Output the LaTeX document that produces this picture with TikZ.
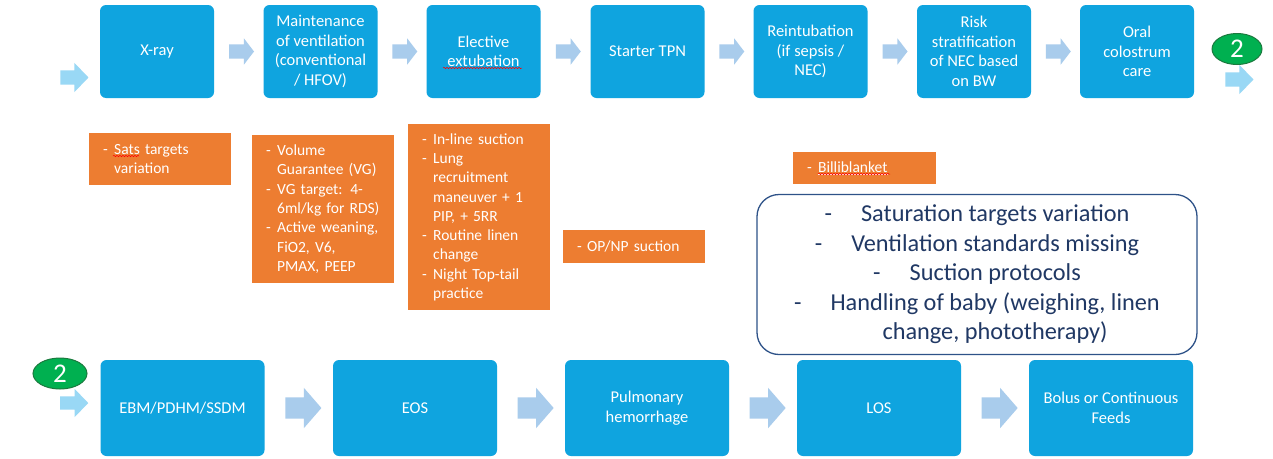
\documentclass[tikz,border=0pt]{standalone}
\usepackage{fontspec}
\setmainfont{Carlito}
\usetikzlibrary{shapes.arrows,shapes.geometric,calc,decorations.pathmorphing}
\definecolor{boxblue}{HTML}{0FA4DF}
\definecolor{arrowblue}{HTML}{A9CCEC}
\definecolor{cyanarrow}{HTML}{99D8F5}
\definecolor{orangebox}{HTML}{ED7D31}
\definecolor{greenfill}{HTML}{00B050}
\definecolor{greenline}{HTML}{1B7A3E}
\definecolor{navytext}{HTML}{203864}
\definecolor{navyline}{HTML}{2E5288}
\newcommand\ob{\makebox[11pt][l]{-}}
\newcommand\oi{\hspace*{11pt}}
\tikzset{
  topbox/.style={rounded corners=6pt, fill=boxblue, text=white, minimum width=114pt,
    minimum height=93pt, inner sep=2pt, align=center, font=\fontsize{16.5}{19.5}\selectfont},
  botbox/.style={rounded corners=6pt, fill=boxblue, text=white, minimum width=164pt,
    minimum height=96pt, inner sep=2pt, align=center, font=\fontsize{16.5}{19.5}\selectfont},
  toparrow/.style={single arrow, fill=arrowblue, draw=none, inner xsep=0pt, inner ysep=7pt,
    minimum height=25pt, single arrow head extend=6pt, single arrow tip angle=105},
  botarrow/.style={single arrow, fill=arrowblue, draw=none, inner xsep=0pt, inner ysep=10.5pt,
    minimum height=36pt, single arrow head extend=9.5pt, single arrow tip angle=98},
  cyarrow/.style={single arrow, fill=cyanarrow, draw=none, inner xsep=0pt, inner ysep=7pt,
    minimum height=28pt, single arrow head extend=7.5pt, single arrow tip angle=92},
  orbox/.style={anchor=north west, fill=orangebox, text=white, inner xsep=14pt, inner ysep=0pt,
    text width=114pt, align=left, font=\fontsize{15.5}{19.3}\selectfont},
  greenmark/.style={ellipse, fill=greenfill, draw=greenline, line width=1pt, text=white,
    inner sep=0pt, font=\fontsize{27}{27}\selectfont},
  squiggle/.style={red, line width=0.5pt, decorate, decoration={snake, amplitude=0.7pt, segment length=3pt}}
}
\begin{document}
\begin{tikzpicture}[x=1pt,y=-1pt]
\useasboundingbox[fill=white] (0,0) rectangle (1273,458);

% top row
\node[topbox] (t1) at (157,51.5) {X-ray};
\node[topbox] (t2) at (320.5,51.5) {Maintenance\\of ventilation\\(conventional\\/ HFOV)};
\node[topbox] (t3) at (483.5,51.5) {Elective\\extubation};
\node[topbox] (t4) at (647.5,51.5) {Starter TPN};
\node[topbox] (t5) at (810.5,51.5) {Reintubation\\(if sepsis /\\NEC)};
\node[topbox] (t6) at (974,51.5) {Risk\\stratification\\of NEC based\\on BW};
\node[topbox] (t7) at (1137,51.5) {Oral\\colostrum\\care};

\node[cyarrow] (ta0) at (71,77.5) {};
\foreach \a/\b in {t1/t2,t2/t3,t3/t4,t4/t5,t5/t6,t6/t7}
  \node[toparrow] (ta-\a) at ($(\a.east)!0.5!(\b.west)$) {};
\node[cyarrow] (taend) at (1236,79.5) {};
\node[greenmark, minimum width=50pt, minimum height=31pt] (g1) at (1237,49) {2};

\draw[squiggle] (443,68) -- (522,68);

% orange notes
\node[orbox, minimum height=52pt] (o1) at (89,133) {\ob Sats targets\\\oi variation};
\draw[squiggle] (113,156) -- (139,156);
\node[orbox, minimum height=148pt] (o2) at (252,135) {\ob Volume\\\oi Guarantee (VG)\\\ob VG target: 4-\\\oi 6ml/kg for RDS)\\\ob Active weaning,\\\oi FiO2, V6,\\\oi PMAX, PEEP};
\node[orbox, minimum height=186pt] (o3) at (408,124) {\ob In-line suction\\\ob Lung\\\oi recruitment\\\oi maneuver + 1\\\oi PIP, + 5RR\\\ob Routine linen\\\oi change\\\ob Night Top-tail\\\oi practice};
\node[orbox, minimum height=33pt, inner xsep=14pt] (o4) at (563,230) {\makebox[10pt][l]{-}OP/NP suction};
\node[orbox, minimum height=32pt, text width=115pt] (o5) at (793,152) {\ob \underline{Billiblanket}};
\draw[squiggle] (818,174) -- (890,174);

% issues box
\node[draw=navyline, line width=1.3pt, rounded corners=22pt, minimum width=440pt, minimum height=160pt,
  text=navytext, align=center, font=\fontsize{24.3}{29.5}\selectfont] (iss) at (977,274.5)
  {-\hspace{29pt}Saturation targets variation\\
   -\hspace{29pt}Ventilation standards missing\\
   -\hspace{29pt}Suction protocols\\
   -\hspace{29pt}Handling of baby (weighing, linen\\
   \hspace*{36pt}change, phototherapy)};

% bottom row
\node[botbox] (b1) at (182.5,408) {EBM/PDHM/SSDM};
\node[botbox] (b2) at (415,408) {EOS};
\node[botbox] (b3) at (647,408) {Pulmonary\\hemorrhage};
\node[botbox] (b4) at (879,408) {LOS};
\node[botbox] (b5) at (1111,408) {Bolus or Continuous\\Feeds};

\node[cyarrow, inner ysep=6.5pt] (ba0) at (71,403) {};
\foreach \a/\b in {b1/b2,b2/b3,b3/b4,b4/b5}
  \node[botarrow] (ba-\a) at ($(\a.east)!0.5!(\b.west)$) {};
\node[greenmark, minimum width=54pt, minimum height=31pt] (g2) at (60,373.5) {2};
\end{tikzpicture}
\end{document}
